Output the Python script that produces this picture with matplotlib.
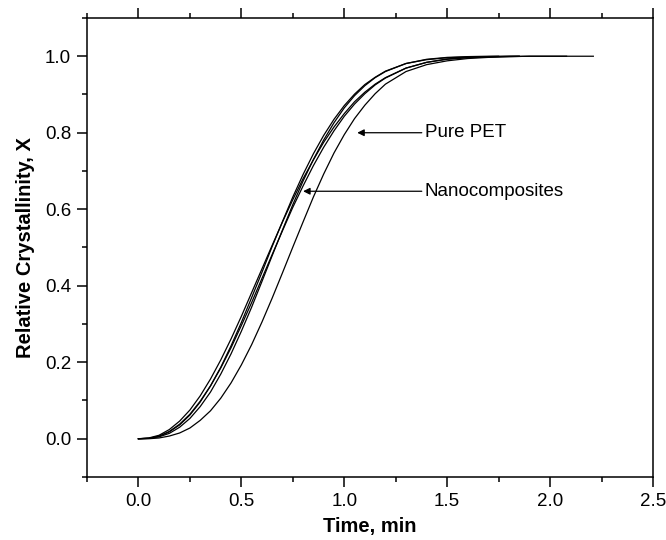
import matplotlib
matplotlib.use("Agg")
import matplotlib.pyplot as plt
from matplotlib.ticker import MultipleLocator

# ----------------------------
# Data
# ----------------------------
T_COMMON = [0.0, 0.05, 0.1, 0.15, 0.2, 0.25, 0.3, 0.35, 0.4, 0.45, 0.5, 0.55,
            0.6, 0.65, 0.7, 0.75, 0.8, 0.85, 0.9, 0.95, 1.0, 1.05, 1.1, 1.15,
            1.2, 1.3, 1.4, 1.5, 1.6, 1.7]

# Pure PET (slowest curve)
t_pet = T_COMMON + [1.8, 1.9, 2.0, 2.1, 2.21]
x_pet = [0.0, 0.0, 0.002, 0.007, 0.015, 0.028, 0.048, 0.073, 0.106, 0.146,
         0.193, 0.246, 0.305, 0.368, 0.434, 0.501, 0.567, 0.632, 0.692, 0.747,
         0.795, 0.837, 0.872, 0.902, 0.927, 0.960, 0.978, 0.988, 0.994, 0.997,
         0.999, 1.0, 1.0, 1.0, 1.0]

# Nanocomposites
t_nc1 = T_COMMON + [1.8, 1.9, 2.0, 2.08]
x_nc1 = [0.0, 0.002, 0.009, 0.024, 0.046, 0.075, 0.112, 0.156, 0.206, 0.261,
         0.320, 0.382, 0.444, 0.506, 0.567, 0.625, 0.680, 0.729, 0.775, 0.815,
         0.850, 0.881, 0.906, 0.927, 0.944, 0.969, 0.984, 0.992, 0.996, 0.998,
         0.999, 1.0, 1.0, 1.0]

t_nc2 = T_COMMON + [1.8, 1.85]
x_nc2 = [0.0, 0.001, 0.006, 0.018, 0.036, 0.062, 0.096, 0.138, 0.187, 0.243,
         0.304, 0.369, 0.435, 0.503, 0.568, 0.632, 0.691, 0.745, 0.793, 0.835,
         0.871, 0.901, 0.926, 0.945, 0.961, 0.981, 0.991, 0.996, 0.998, 0.999,
         1.0, 1.0]

t_nc3 = T_COMMON + [1.75]
x_nc3 = [0.0, 0.001, 0.005, 0.014, 0.030, 0.053, 0.084, 0.122, 0.169, 0.222,
         0.281, 0.344, 0.411, 0.479, 0.546, 0.612, 0.674, 0.730, 0.781, 0.826,
         0.865, 0.897, 0.923, 0.944, 0.960, 0.981, 0.992, 0.997, 0.999, 1.0,
         1.0]

t_nc4 = T_COMMON + [1.8, 1.85]
x_nc4 = [0.0, 0.001, 0.007, 0.019, 0.038, 0.064, 0.098, 0.138, 0.185, 0.238,
         0.296, 0.356, 0.419, 0.482, 0.544, 0.605, 0.661, 0.714, 0.762, 0.805,
         0.843, 0.875, 0.902, 0.925, 0.943, 0.969, 0.984, 0.993, 0.997, 0.999,
         1.0, 1.0]

CURVES = [(t_pet, x_pet), (t_nc1, x_nc1), (t_nc2, x_nc2),
          (t_nc3, x_nc3), (t_nc4, x_nc4)]

# ----------------------------
# Style
# ----------------------------
plt.rcParams.update({
    "font.family": ["Liberation Sans", "DejaVu Sans"],
    "font.size": 13.5,
    "axes.linewidth": 1.1,
})

fig = plt.figure(figsize=(6.66, 5.4), dpi=100)
ax = fig.add_axes([0.1306, 0.1167, 0.8499, 0.85])

for t, x in CURVES:
    ax.plot(t, x, color="black", linewidth=0.9)

ax.set_xlim(-0.25, 2.5)
ax.set_ylim(-0.1, 1.1)
ax.xaxis.set_major_locator(MultipleLocator(0.5))
ax.xaxis.set_minor_locator(MultipleLocator(0.25))
ax.yaxis.set_major_locator(MultipleLocator(0.2))
ax.yaxis.set_minor_locator(MultipleLocator(0.1))
ax.xaxis.set_major_formatter(lambda v, p: f"{v:.1f}")
ax.yaxis.set_major_formatter(lambda v, p: f"{v:.1f}")

ax.tick_params(which="both", direction="out", top=True, right=False,
               labeltop=False, width=1.1, labelsize=13.5)
ax.tick_params(which="major", length=7, pad=4.5)
ax.tick_params(which="minor", length=3.5)

ax.set_xlabel("Time, min", fontweight="bold", fontsize=14.5, labelpad=5)
ax.set_ylabel("Relative Crystallinity, X", fontweight="bold", fontsize=14.5,
              labelpad=7)

arrow = dict(arrowstyle="-|>", color="black", lw=0.9, mutation_scale=10,
             shrinkA=0, shrinkB=0)
ax.annotate("Pure PET", xy=(1.063, 0.80), xytext=(1.39, 0.80),
            va="center", ha="left", fontsize=13.5, arrowprops=arrow)
ax.annotate("Nanocomposites", xy=(0.80, 0.647), xytext=(1.39, 0.647),
            va="center", ha="left", fontsize=13.5, arrowprops=arrow)

fig.savefig("out.png", dpi=100)
